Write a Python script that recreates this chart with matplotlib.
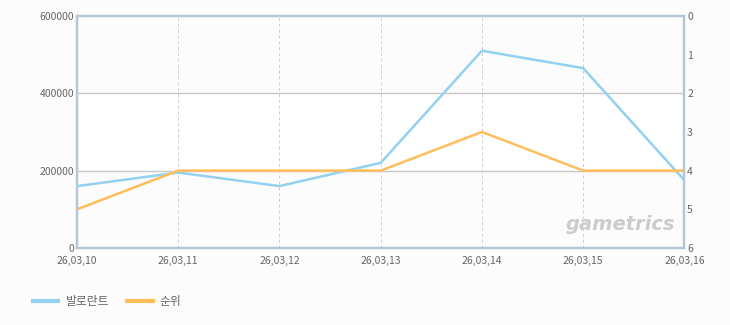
import matplotlib.pyplot as plt
from matplotlib.lines import Line2D

plt.rcParams['font.family'] = ['Noto Sans CJK KR', 'DejaVu Sans']

dates = ['26,03,10', '26,03,11', '26,03,12', '26,03,13', '26,03,14', '26,03,15', '26,03,16']
users = [160000, 195000, 160000, 220000, 510000, 465000, 175000]
rank = [5, 4, 4, 4, 3, 4, 4]

blue = '#92d2f0'
orange = '#ffbd5c'
txt = '#666666'
edge = '#b4c6d8'

fig = plt.figure(figsize=(7.3, 3.25), dpi=100, facecolor='#fcfcfc')
ax = fig.add_axes([0.1055, 0.237, 0.832, 0.714])
ax.set_facecolor('#fcfcfc')
ax.axhspan(200000, 400000, color='white', zorder=0)

x = range(len(dates))
ax.plot(x, users, color=blue, lw=1.8, zorder=3)
ax.set_xlim(0, len(dates) - 1)
ax.set_ylim(0, 600000)
ax.set_yticks([0, 200000, 400000, 600000])
ax.set_xticks(list(x))
ax.set_xticklabels(dates)
for xi in x[1:-1]:
    ax.axvline(xi, color='#cccccc', lw=0.7, ls=(0, (3, 3)), zorder=1)
for yv in [200000, 400000]:
    ax.axhline(yv, color='#c8c8c8', lw=1, zorder=1)

ax2 = ax.twinx()
ax2.plot(x, rank, color=orange, lw=1.8, zorder=3)
ax2.set_ylim(6, 0)
ax2.set_yticks(range(7))

for a in (ax, ax2):
    a.tick_params(length=0, labelsize=7.5, colors=txt, pad=2)
    for s in a.spines.values():
        s.set_color(edge)
        s.set_linewidth(1.6)
ax.tick_params(axis='x', pad=6)

ax.text(0.985, 0.1, 'gametrics', transform=ax.transAxes, ha='right', va='center',
        fontsize=14, style='italic', fontweight='bold', color='#cccccc',
        family='DejaVu Sans', zorder=2)

handles = [Line2D([], [], color=blue, lw=3), Line2D([], [], color=orange, lw=3)]
fig.legend(handles, ['발로란트', '순위'], loc='lower left', bbox_to_anchor=(0.03, 0.02),
           ncol=2, frameon=False, fontsize=8.5, labelcolor=txt, handlelength=2.2,
           columnspacing=1.5, handletextpad=0.6)

fig.savefig('out.png', dpi=100, facecolor=fig.get_facecolor())
